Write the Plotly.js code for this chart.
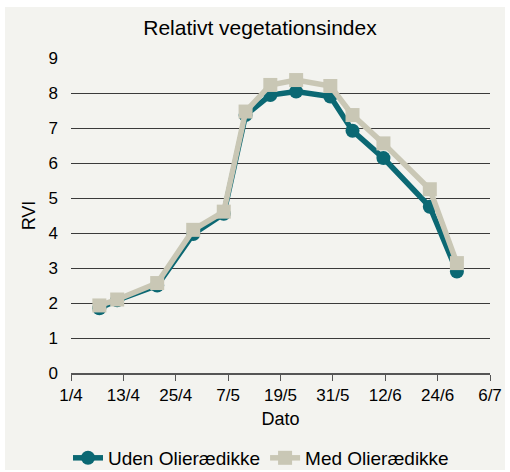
<!DOCTYPE html>
<html>
<head>
<meta charset="utf-8">
<script src="https://cdn.plot.ly/plotly-3.0.1.min.js"></script>
<style>
html,body{margin:0;padding:0;background:#ffffff;width:510px;height:472px;overflow:hidden;}
#chart{position:absolute;left:5px;top:7px;width:500px;height:463px;}
</style>
</head>
<body>
<div id="chart"></div>
<script>
const dates = ["2013-04-07 12:00","2013-04-11 14:00","2013-04-20 18:00","2013-04-29 00:00","2013-05-06 00:00","2013-05-11 00:00","2013-05-16 16:00","2013-05-22 14:00","2013-05-30 10:00","2013-06-04 12:00","2013-06-11 14:00","2013-06-22 05:00","2013-06-28 10:00"];
const udenValues = [1.85, 2.08, 2.5, 3.97, 4.55, 7.37, 7.94, 8.04, 7.9, 6.92, 6.14, 4.75, 2.9];
const medValues = [1.93, 2.1, 2.57, 4.09, 4.61, 7.47, 8.23, 8.37, 8.2, 7.37, 6.56, 5.25, 3.14];
const seriesNames = ["Uden Olierædikke", "Med Olierædikke"];
const xTickVals = ["2013-04-01","2013-04-13","2013-04-25","2013-05-07","2013-05-19","2013-05-31","2013-06-12","2013-06-24","2013-07-06"];
const xTickText = ["1/4","13/4","25/4","7/5","19/5","31/5","12/6","24/6","6/7"];

const font = "Liberation Sans, Arial, sans-serif";
const traces = [
  {x: dates, y: udenValues, name: seriesNames[0], type: "scatter", mode: "lines+markers",
   line: {color: "#0b6873", width: 5.5}, marker: {symbol: "circle", size: 14, color: "#0b6873"}},
  {x: dates, y: medValues, name: seriesNames[1], type: "scatter", mode: "lines+markers",
   line: {color: "#c9c7b5", width: 5.5}, marker: {symbol: "square", size: 14, color: "#c9c7b5"}}
];
const layout = {
  width: 500, height: 463,
  paper_bgcolor: "#f3f3ef", plot_bgcolor: "#f3f3ef",
  margin: {l: 66, r: 15, t: 51, b: 97},
  font: {family: font, color: "#000", size: 17},
  title: {text: "Relativt vegetationsindex", font: {size: 21, family: font, color: "#000"}, x: 0.51, xanchor: "center", y: 0.955, yanchor: "middle"},
  showlegend: true,
  legend: {orientation: "h", xref: "container", x: 0.512, xanchor: "center", yref: "container", y: 0.026, yanchor: "middle", font: {size: 19, family: font}, bgcolor: "rgba(0,0,0,0)", traceorder: "normal", itemwidth: 30},
  xaxis: {
    type: "date", range: ["2013-04-01","2013-07-06"],
    tickvals: xTickVals, ticktext: xTickText,
    ticks: "outside", ticklen: 6, tickwidth: 1, tickcolor: "#555",
    showline: true, linecolor: "#555", linewidth: 1.5,
    showgrid: false, zeroline: false,
    tickfont: {size: 17, family: font},
    title: {text: "Dato", font: {size: 18, family: font}, standoff: 8}
  },
  yaxis: {
    range: [0, 9], dtick: 1, tick0: 0,
    showgrid: true, gridcolor: "#3a3a3a", gridwidth: 1,
    zeroline: false, showline: false, ticks: "",
    ticklabelstandoff: 12,
    tickfont: {size: 17, family: font},
    title: {text: "RVI", font: {size: 18, family: font}, standoff: 8}
  }
};
Plotly.newPlot("chart", traces, layout, {displayModeBar: false, staticPlot: true});
</script>
</body>
</html>
